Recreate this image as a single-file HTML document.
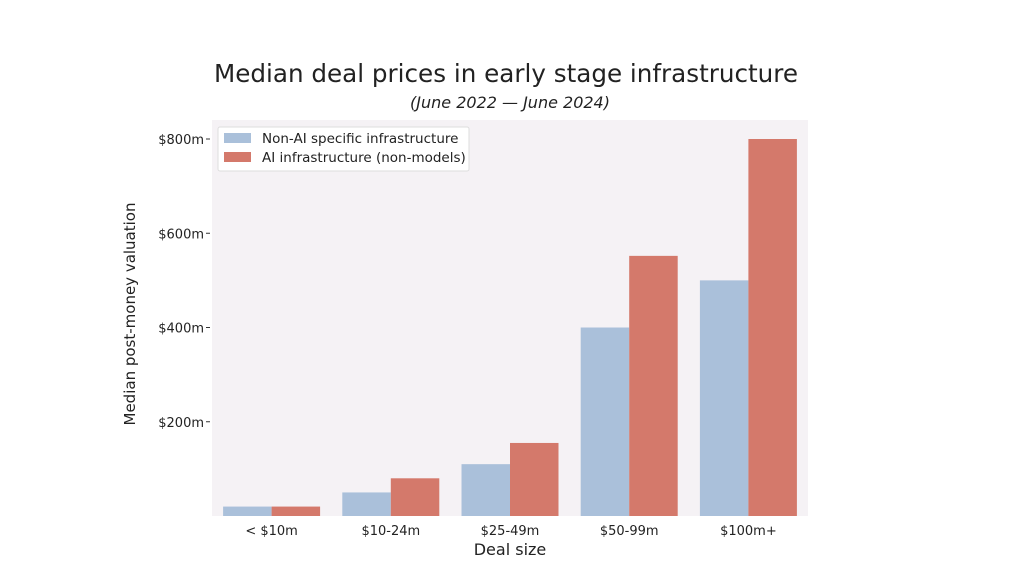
<!DOCTYPE html>
<html><head><meta charset="utf-8"><style>
body{margin:0;background:#fff;}
svg text{font-family:"DejaVu Sans","Liberation Sans",sans-serif;fill:#222;}
</style></head><body>
<svg width="1024" height="576" viewBox="0 0 1024 576">
<text x="506" y="82" text-anchor="middle" font-size="24.5" textLength="584" lengthAdjust="spacingAndGlyphs">Median deal prices in early stage infrastructure</text>
<text x="510" y="108" text-anchor="middle" font-size="16" font-style="italic">(June 2022 — June 2024)</text>
<rect x="212" y="120" width="596" height="396" fill="#f5f2f5"/>
<g id="bars"></g>
<g id="yaxis"></g>
<g id="xaxis"></g>
<text transform="translate(135,314) rotate(-90)" text-anchor="middle" font-size="15">Median post-money valuation</text>
<text x="510" y="555" text-anchor="middle" font-size="16">Deal size</text>
<g>
<rect x="218" y="127" width="251" height="44" fill="#fff" stroke="#ddd" rx="2"/>
<rect x="224" y="133" width="27" height="10" fill="#aac0da"/>
<text x="262" y="143" font-size="13.5">Non-AI specific infrastructure</text>
<rect x="224" y="152" width="27" height="10" fill="#d4796b"/>
<text x="262" y="162" font-size="13.5">AI infrastructure (non-models)</text>
</g>
</svg>
<script>
const categories=["< $10m","$10-24m","$25-49m","$50-99m","$100m+"];
const nonAI=[20,50,110,400,500];
const aiInfra=[20,80,155,552,800];
const yTicks=[200,400,600,800];
const yTickLabels=["$200m","$400m","$600m","$800m"];
const NS="http://www.w3.org/2000/svg";
const x0=212,x1=808,yBase=516,yTop=139;
const band=(x1-x0)/categories.length;
function xc(i){return x0+band*(i+0.5);}
function y(v){return yBase-(yBase-yTop)*v/800;}
function mk(t,a,p){const e=document.createElementNS(NS,t);for(const k in a)e.setAttribute(k,a[k]);p.appendChild(e);return e;}
const bars=document.getElementById('bars'),ya=document.getElementById('yaxis'),xa=document.getElementById('xaxis');
const bw=48.5;
categories.forEach((c,i)=>{
  const b1=mk('rect',{x:xc(i)-bw,y:y(nonAI[i]),width:bw,height:yBase-y(nonAI[i]),fill:'#aac0da'},bars);
  
  
  const b2=mk('rect',{x:xc(i),y:y(aiInfra[i]),width:bw,height:yBase-y(aiInfra[i]),fill:'#d4796b'},bars);
  
  
  const t=mk('text',{x:xc(i),y:535,'text-anchor':'middle','font-size':'13'},xa);
  t.textContent=c;
  
  
});
yTicks.forEach((v,i)=>{
  const t=mk('text',{x:204,y:y(v)+5,'text-anchor':'end','font-size':'13'},ya);
  t.textContent=yTickLabels[i];
  
  
  const l=mk('line',{x1:206,x2:210,y1:y(v),y2:y(v),stroke:'#333'},ya);
  
  
});
</script>
</body></html>
